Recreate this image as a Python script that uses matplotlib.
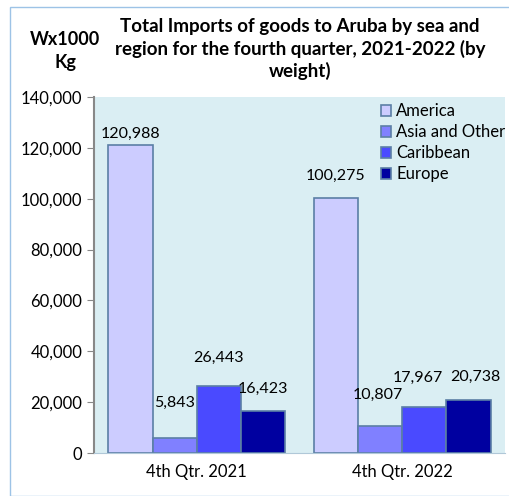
import matplotlib
matplotlib.use('Agg')
import matplotlib.pyplot as plt
import numpy as np
from matplotlib.patches import Rectangle

plt.rcParams['font.family'] = ['Lato', 'DejaVu Sans']

quarters = ['4th Qtr. 2021', '4th Qtr. 2022']
regions = ['America', 'Asia and Other', 'Caribbean', 'Europe']
america = [120988, 100275]
asia_other = [5843, 10807]
caribbean = [26443, 17967]
europe = [16423, 20738]
colors = ['#CCCCFF', '#8080FF', '#4A4AFF', '#0000A0']
# nudge of each data label in points (Excel moves them to avoid overlap)
label_dx = [[0, 0], [0, -2], [0, -5], [0, 5]]
label_dy = [[3, 11], [20, 17], [15, 16], [11, 12]]

series = [america, asia_other, caribbean, europe]

fig = plt.figure(figsize=(5.1, 4.96), dpi=100)
fig.patches.append(Rectangle((10/510, 0), 1.0, 1 - 7/496, transform=fig.transFigure,
                             fill=False, edgecolor='#9DC3E6', linewidth=1.0))

ax = fig.add_axes([94/510, 43/496, 411/510, 356/496])
ax.set_facecolor('#DAEEF3')

x = np.arange(len(quarters))
w = 0.215
for i, (vals, c) in enumerate(zip(series, colors)):
    pos = x + (i - 1.5) * w
    bars = ax.bar(pos, vals, w, color=c, edgecolor='#5B7FA6', linewidth=1.2,
                  label=regions[i])
    for j, b in enumerate(bars):
        ax.annotate(f'{vals[j]:,}', (b.get_x() + b.get_width() / 2, vals[j]),
                    xytext=(label_dx[i][j], label_dy[i][j]), textcoords='offset points',
                    ha='center', va='bottom', fontsize=11.5)

ax.set_xlim(-0.5, 1.5)
ax.set_ylim(0, 140000)
ax.set_yticks(np.arange(0, 140001, 20000))
ax.yaxis.set_major_formatter(matplotlib.ticker.FuncFormatter(lambda v, p: f'{int(v):,}'))
ax.set_xticks(x)
ax.set_xticklabels(quarters)
ax.tick_params(axis='x', length=0, labelsize=12, pad=8)
ax.tick_params(axis='y', length=5, color='#888888', labelsize=12, direction='out')
for s in ['top', 'right']:
    ax.spines[s].set_visible(False)
ax.spines['left'].set_color('#888888')
ax.spines['left'].set_linewidth(1.5)
ax.spines['bottom'].set_color('#B0C8D8')

leg = ax.legend(loc='upper right', bbox_to_anchor=(1.025, 1.01), frameon=False,
                fontsize=12, handlelength=0.6, handleheight=0.6, handletextpad=0.3,
                labelspacing=0.3, borderaxespad=0.2)

fig.text(300/510, 1 - 49/496,
         'Total Imports of goods to Aruba by sea and\nregion for the fourth quarter, 2021-2022 (by\nweight)',
         ha='center', va='center', fontsize=13.5, fontweight='bold', linespacing=1.3)
fig.text(65/510, 1 - 51/496, 'Wx1000\nKg', ha='center', va='center',
         fontsize=13, fontweight='bold', linespacing=1.4)

fig.savefig('out.png', dpi=100)
